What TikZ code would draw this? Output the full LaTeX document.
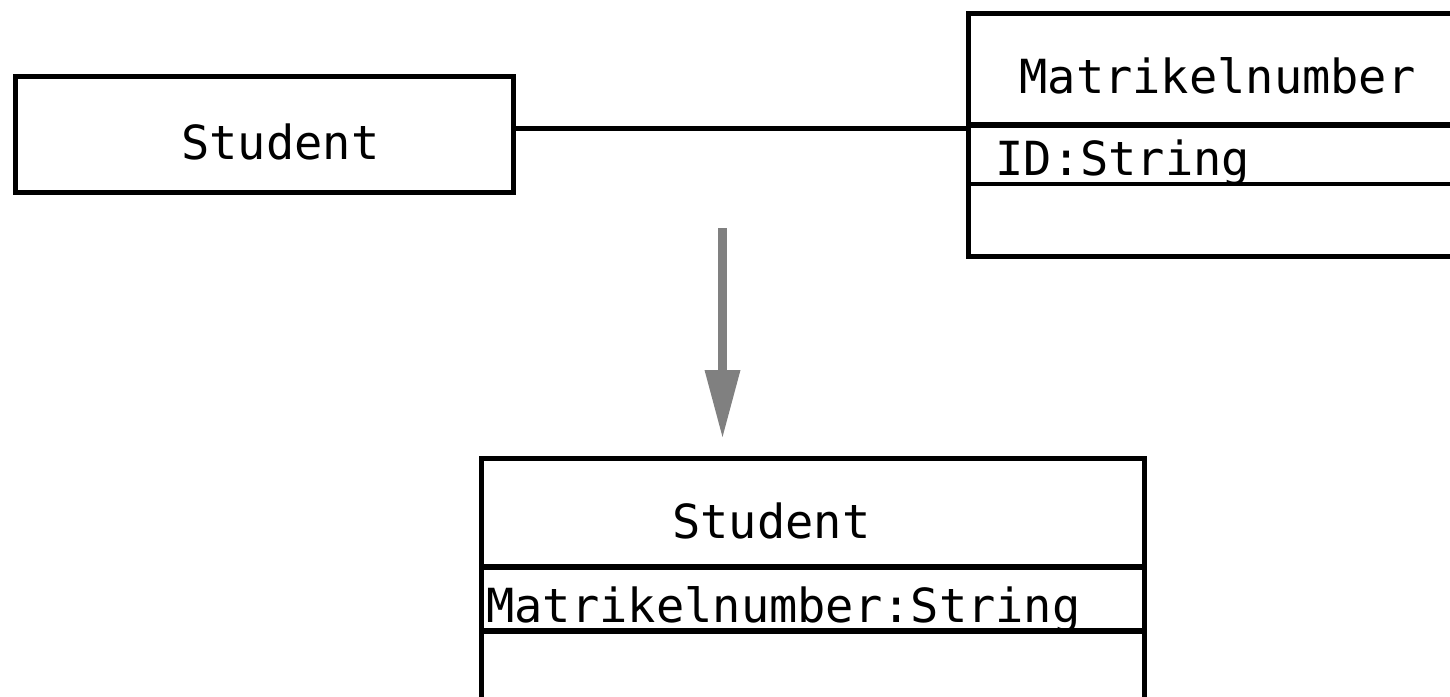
\documentclass[tikz,border=0pt]{standalone}
\usepackage{fontspec}
\usetikzlibrary{calc}
\newfontfamily\umlfont{DejaVu Sans Mono}
\begin{document}
\begin{tikzpicture}[x=0.5pt,y=-0.5pt,
  umlbox/.style={draw=black,line width=2.3pt,fill=white,inner sep=0pt},
  divider/.style={draw=black,line width=2.3pt},
  label/.style={inner sep=0pt,font=\umlfont\fontsize{23.5pt}{28pt}\selectfont}]
\useasboundingbox (0,0) rectangle (1450,696);

% Student class (simple box)
\node[umlbox,minimum width=249pt,minimum height=58pt,anchor=north west] (stud) at (13,74) {};
\node[label,anchor=base west] (studtxt) at (181,159) {Student};

% Matrikelnumber class with attribute compartment
\node[umlbox,minimum width=248pt,minimum height=121.5pt,anchor=north west] (matr) at (966,11) {};
\coordinate (mdiv1w) at (966,125);
\coordinate (mdiv1e) at (1460,125);
\coordinate (mdiv2w) at (966,184);
\coordinate (mdiv2e) at (1460,184);
\draw[divider,line width=2.8pt] (mdiv1w) -- (mdiv1e);
\draw[divider] (mdiv2w) -- (mdiv2e);
\node[label,anchor=base west] (matrtxt) at (1019,93) {Matrikelnumber};
\node[label,anchor=base west] (idtxt) at (995,175) {ID:String};

% association
\draw[divider] (stud.east) ++(0,-6) coordinate (assocstart) -- (assocstart -| matr.west);

% transformation arrow
\coordinate (arrtop) at (722.5,228);
\coordinate (arrneck) at (722.5,370);
\coordinate (arrtip) at (722.5,437);
\fill[gray] ($(arrtop)+(-4.5,0)$) rectangle ($(arrneck)+(4.5,0)$);
\fill[gray] ($(arrneck)+(-18,0)$) -- ($(arrneck)+(18,0)$) -- (arrtip) -- cycle;

% merged Student class
\node[umlbox,minimum width=331.5pt,minimum height=130pt,anchor=north west] (merged) at (479,456) {};
\coordinate (bdiv1w) at (479,567);
\coordinate (bdiv1e) at (1142,567);
\coordinate (bdiv2w) at (479,631);
\coordinate (bdiv2e) at (1142,631);
\draw[divider,line width=2.8pt] (bdiv1w) -- (bdiv1e);
\draw[divider,line width=2.8pt] (bdiv2w) -- (bdiv2e);
\node[label,anchor=base west] (mstud) at (672,538) {Student};
\node[label,anchor=base west] (mattr) at (486,622) {Matrikelnumber:String};
\end{tikzpicture}
\end{document}
